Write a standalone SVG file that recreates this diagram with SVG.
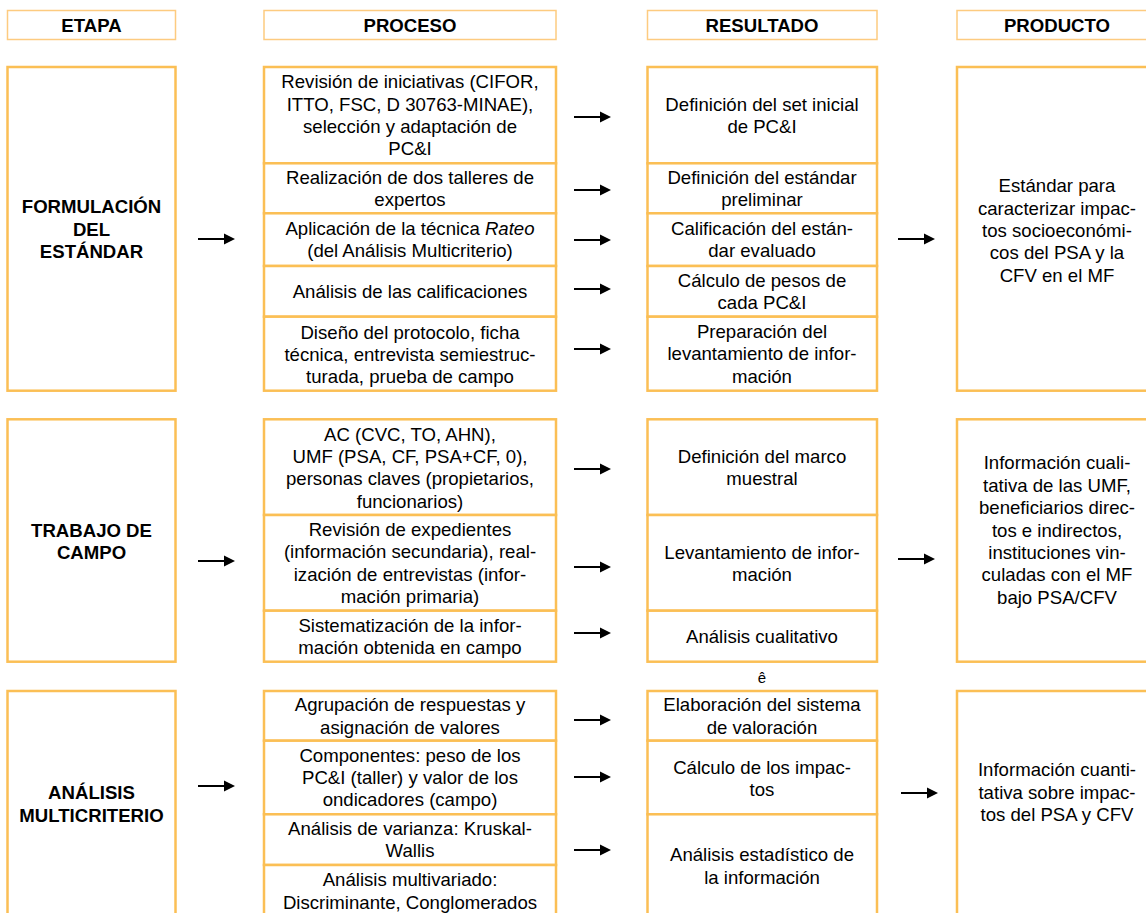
<svg xmlns="http://www.w3.org/2000/svg" width="1146" height="913" viewBox="0 0 1146 913">
<defs>
<marker id="ah" markerUnits="userSpaceOnUse" markerWidth="12" markerHeight="12" refX="0" refY="6" orient="auto">
<path d="M0,0.5 L11,6 L0,11.5 z" fill="#000"/>
</marker>
</defs>
<style>
.hd{fill:#fff;stroke:#FDCB80;stroke-width:1.5}
.bx{fill:#fff;stroke:#FBBF55;stroke-width:2.5}
text{font-family:"Liberation Sans",Arial,sans-serif;font-size:18.6px;fill:#000;text-anchor:middle}
.b{font-weight:bold}
.ar{stroke:#000;stroke-width:2;fill:none;marker-end:url(#ah)}
</style>
<rect width="1146" height="913" fill="#fff"/>

<g id="headers">
<g id="h-etapa"><rect class="hd" x="7.5" y="10.5" width="168" height="29"/><text class="b" x="91.5" y="31.5">ETAPA</text></g>
<g id="h-proceso"><rect class="hd" x="264" y="10.5" width="292" height="29"/><text class="b" x="410" y="31.5">PROCESO</text></g>
<g id="h-resultado"><rect class="hd" x="647.5" y="10.5" width="229.5" height="29"/><text class="b" x="762" y="31.5">RESULTADO</text></g>
<g id="h-producto"><rect class="hd" x="957" y="10.5" width="203" height="29"/><text class="b" x="1057" y="31.5">PRODUCTO</text></g>
</g>

<!-- Row 1 -->
<g id="e1"><rect class="bx" x="7.5" y="67" width="168" height="323.7"/>
<text class="b" x="91.5" y="213.1">FORMULACIÓN</text><text class="b" x="91.5" y="235.5">DEL</text><text class="b" x="91.5" y="257.9">ESTÁNDAR</text></g>

<g id="p1a"><rect class="bx" x="264" y="67" width="292" height="96.3"/>
<text x="410" y="88.1">Revisión de iniciativas (CIFOR,</text><text x="410" y="110.5">ITTO, FSC, D 30763-MINAE),</text><text x="410" y="132.9">selección y adaptación de</text><text x="410" y="155.3">PC&amp;I</text></g>
<g id="p1b"><rect class="bx" x="264" y="163.3" width="292" height="50"/>
<text x="410" y="183.6">Realización de dos talleres de</text><text x="410" y="206">expertos</text></g>
<g id="p1c"><rect class="bx" x="264" y="213.3" width="292" height="52.7"/>
<text x="410" y="235">Aplicación de la técnica <tspan font-style="italic">Rateo</tspan></text><text x="410" y="257.4">(del Análisis Multicriterio)</text></g>
<g id="p1d"><rect class="bx" x="264" y="266" width="292" height="50.7"/>
<text x="410" y="298">Análisis de las calificaciones</text></g>
<g id="p1e"><rect class="bx" x="264" y="316.7" width="292" height="74"/>
<text x="410" y="338.5">Diseño del protocolo, ficha</text><text x="410" y="360.9">técnica, entrevista semiestruc-</text><text x="410" y="383.3">turada, prueba de campo</text></g>

<g id="r1a"><rect class="bx" x="647.5" y="67" width="229.5" height="96.3"/>
<text x="762" y="110.5">Definición del set inicial</text><text x="762" y="132.9">de PC&amp;I</text></g>
<g id="r1b"><rect class="bx" x="647.5" y="163.3" width="229.5" height="50"/>
<text x="762" y="183.6">Definición del estándar</text><text x="762" y="206">preliminar</text></g>
<g id="r1c"><rect class="bx" x="647.5" y="213.3" width="229.5" height="52.7"/>
<text x="762" y="235">Calificación del están-</text><text x="762" y="257.4">dar evaluado</text></g>
<g id="r1d"><rect class="bx" x="647.5" y="266" width="229.5" height="50.7"/>
<text x="762" y="286.6">Cálculo de pesos de</text><text x="762" y="309">cada PC&amp;I</text></g>
<g id="r1e"><rect class="bx" x="647.5" y="316.7" width="229.5" height="74"/>
<text x="762" y="337.8">Preparación del</text><text x="762" y="360.2">levantamiento de infor-</text><text x="762" y="382.6">mación</text></g>

<g id="o1"><rect class="bx" x="957" y="67" width="203" height="323.7"/>
<text x="1057" y="192.2">Estándar para</text><text x="1057" y="214.6">caracterizar impac-</text><text x="1057" y="237">tos socioeconómi-</text><text x="1057" y="259.4">cos del PSA y la</text><text x="1057" y="281.8">CFV en el MF</text></g>

<!-- Row 2 -->
<g id="e2"><rect class="bx" x="7.5" y="419.3" width="168" height="242.4"/>
<text class="b" x="91.5" y="536.6">TRABAJO DE</text><text class="b" x="91.5" y="559">CAMPO</text></g>

<g id="p2a"><rect class="bx" x="264" y="419.3" width="292" height="95.7"/>
<text x="410" y="440.6">AC (CVC, TO, AHN),</text><text x="410" y="463">UMF (PSA, CF, PSA+CF, 0),</text><text x="410" y="485.4">personas claves (propietarios,</text><text x="410" y="507.8">funcionarios)</text></g>
<g id="p2b"><rect class="bx" x="264" y="515" width="292" height="95.7"/>
<text x="410" y="535.7">Revisión de expedientes</text><text x="410" y="558.1">(información secundaria), real-</text><text x="410" y="580.5">ización de entrevistas (infor-</text><text x="410" y="602.9">mación primaria)</text></g>
<g id="p2c"><rect class="bx" x="264" y="610.7" width="292" height="51"/>
<text x="410" y="631.5">Sistematización de la infor-</text><text x="410" y="653.9">mación obtenida en campo</text></g>

<g id="r2a"><rect class="bx" x="647.5" y="419.3" width="229.5" height="95.7"/>
<text x="762" y="462.5">Definición del marco</text><text x="762" y="484.9">muestral</text></g>
<g id="r2b"><rect class="bx" x="647.5" y="515" width="229.5" height="95.7"/>
<text x="762" y="559">Levantamiento de infor-</text><text x="762" y="581.4">mación</text></g>
<g id="r2c"><rect class="bx" x="647.5" y="610.7" width="229.5" height="51"/>
<text x="762" y="643">Análisis cualitativo</text></g>

<g id="o2"><rect class="bx" x="957" y="419.3" width="203" height="242.4"/>
<text x="1057" y="469.3">Información cuali-</text><text x="1057" y="491.7">tativa de las UMF,</text><text x="1057" y="514.1">beneficiarios direc-</text><text x="1057" y="536.5">tos e indirectos,</text><text x="1057" y="558.9">instituciones vin-</text><text x="1057" y="581.3">culadas con el MF</text><text x="1057" y="603.7">bajo PSA/CFV</text></g>

<g id="down"><text x="762" y="683" style="font-size:15px">ê</text></g>

<!-- Row 3 -->
<g id="e3"><rect class="bx" x="7.5" y="691" width="168" height="226"/>
<text class="b" x="91.5" y="799.1">ANÁLISIS</text><text class="b" x="91.5" y="821.5">MULTICRITERIO</text></g>

<g id="p3a"><rect class="bx" x="264" y="691" width="292" height="49.7"/>
<text x="410" y="711.1">Agrupación de respuestas y</text><text x="410" y="733.5">asignación de valores</text></g>
<g id="p3b"><rect class="bx" x="264" y="740.7" width="292" height="73.6"/>
<text x="410" y="761.6">Componentes: peso de los</text><text x="410" y="784">PC&amp;I (taller) y valor de los</text><text x="410" y="806.4">ondicadores (campo)</text></g>
<g id="p3c"><rect class="bx" x="264" y="814.3" width="292" height="50.7"/>
<text x="410" y="835">Análisis de varianza: Kruskal-</text><text x="410" y="857.4">Wallis</text></g>
<g id="p3d"><rect class="bx" x="264" y="865" width="292" height="52"/>
<text x="410" y="886.3">Análisis multivariado:</text><text x="410" y="908.7">Discriminante, Conglomerados</text></g>

<g id="r3a"><rect class="bx" x="647.5" y="691" width="229.5" height="49.7"/>
<text x="762" y="711.1">Elaboración del sistema</text><text x="762" y="733.5">de valoración</text></g>
<g id="r3b"><rect class="bx" x="647.5" y="740.7" width="229.5" height="73.6"/>
<text x="762" y="773.8">Cálculo de los impac-</text><text x="762" y="796.2">tos</text></g>
<g id="r3c"><rect class="bx" x="647.5" y="814.3" width="229.5" height="102.7"/>
<text x="762" y="861.4">Análisis estadístico de</text><text x="762" y="883.8">la información</text></g>

<g id="o3"><rect class="bx" x="957" y="691" width="203" height="226"/>
<text x="1057" y="776.1">Información cuanti-</text><text x="1057" y="798.5">tativa sobre impac-</text><text x="1057" y="820.9">tos del PSA y CFV</text></g>

<g id="connectors">
<line class="ar" x1="198" y1="239" x2="224" y2="239"/>
<line class="ar" x1="198" y1="561" x2="224" y2="561"/>
<line class="ar" x1="198" y1="786" x2="224" y2="786"/>

<line class="ar" x1="574" y1="117" x2="600" y2="117"/>
<line class="ar" x1="574" y1="190" x2="600" y2="190"/>
<line class="ar" x1="574" y1="240" x2="600" y2="240"/>
<line class="ar" x1="574" y1="289" x2="600" y2="289"/>
<line class="ar" x1="574" y1="349" x2="600" y2="349"/>
<line class="ar" x1="574" y1="469" x2="600" y2="469"/>
<line class="ar" x1="574" y1="567" x2="600" y2="567"/>
<line class="ar" x1="574" y1="633" x2="600" y2="633"/>
<line class="ar" x1="574" y1="720" x2="600" y2="720"/>
<line class="ar" x1="574" y1="777" x2="600" y2="777"/>
<line class="ar" x1="574" y1="850" x2="600" y2="850"/>

<line class="ar" x1="898" y1="239" x2="924" y2="239"/>
<line class="ar" x1="898" y1="559" x2="924" y2="559"/>
<line class="ar" x1="901" y1="793" x2="927" y2="793"/>
</g>
</svg>
